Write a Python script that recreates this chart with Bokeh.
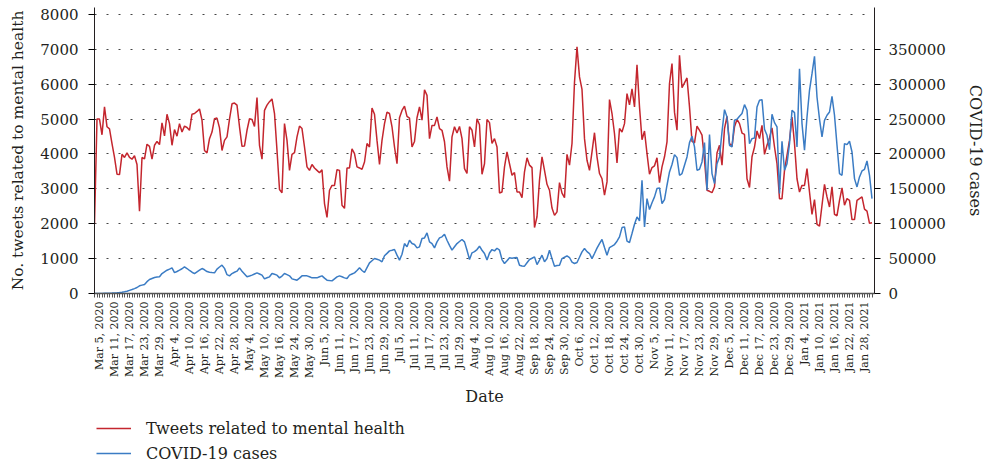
from bokeh.plotting import figure
from bokeh.models import (Range1d, LinearAxis, FixedTicker, Legend, LegendItem,
                          NumeralTickFormatter, Spacer)
from bokeh.layouts import column, row
from bokeh.embed import file_html
from bokeh.resources import INLINE

tick_labels = ["Mar 5, 2020", "Mar 11, 2020", "Mar 17, 2020", "Mar 23, 2020", "Mar 29, 2020",
               "Apr 4, 2020", "Apr 10, 2020", "Apr 16, 2020", "Apr 22, 2020", "Apr 28, 2020",
               "May 4, 2020", "May 10, 2020", "May 16, 2020", "May 24, 2020", "May 30, 2020",
               "Jun 5, 2020", "Jun 11, 2020", "Jun 17, 2020", "Jun 23, 2020", "Jun 29, 2020",
               "Jul 5, 2020", "Jul 11, 2020", "Jul 17, 2020", "Jul 23, 2020", "Jul 29, 2020",
               "Aug 4, 2020", "Aug 10, 2020", "Aug 16, 2020", "Aug 22, 2020",
               "Sep 18, 2020", "Sep 24, 2020", "Sep 30, 2020",
               "Oct 6, 2020", "Oct 12, 2020", "Oct 18, 2020", "Oct 24, 2020", "Oct 30, 2020",
               "Nov 5, 2020", "Nov 11, 2020", "Nov 17, 2020", "Nov 23, 2020", "Nov 29, 2020",
               "Dec 5, 2020", "Dec 11, 2020", "Dec 17, 2020", "Dec 23, 2020", "Dec 29, 2020",
               "Jan 4, 2021", "Jan 10, 2021", "Jan 16, 2021", "Jan 22, 2021", "Jan 28, 2021"]

tweets = [
    2000, 5000, 5000, 4550, 5350, 4780, 4720, 4300, 3900, 3420,
    3410, 3990, 3900, 4030, 3900, 3850, 3950, 3700, 2360, 3900,
    3860, 4280, 4220, 3850, 4250, 4360, 4270, 4890, 4520, 5140,
    4870, 4250, 4700, 4510, 4870, 4630, 4800, 4760, 4680, 5140,
    5160, 5220, 5290, 4970, 4100, 4030, 4440, 4630, 5010, 5030,
    4750, 4100, 4390, 4490, 5000, 5440, 5460, 5400, 4780, 4220,
    4230, 4680, 5010, 4990, 4790, 5620, 4250, 3850, 5250, 5400,
    5500, 5580, 5160, 4100, 2980, 2890, 4870, 4390, 3530, 3990,
    4040, 4490, 4800, 4730, 4200, 3630, 3530, 3700, 3600, 3530,
    3460, 3550, 2580, 2180, 2960, 3100, 3100, 3550, 3530, 2530,
    2440, 3600, 3600, 4150, 4010, 3630, 3600, 3560, 3770, 4300,
    4200, 5320, 5140, 4390, 3700, 4390, 4870, 5200, 5160, 4780,
    4200, 3720, 5040, 5250, 5370, 5080, 5030, 4200, 4360, 5040,
    5350, 4970, 5840, 5680, 4440, 4820, 4820, 5060, 4730, 4680,
    4350, 3630, 3220, 4490, 4780, 4600, 4790, 4440, 3580, 3440,
    4780, 4680, 4200, 5010, 4840, 3420, 3720, 4990, 4900, 4300,
    4440, 4200, 2880, 2910, 3630, 4060, 3720, 3390, 3470, 2910,
    2910, 2750, 3490, 3890, 3680, 3610, 1890, 2200, 3250, 3920,
    3530, 3130, 2960, 2450, 2240, 2340, 3180, 2880, 2750, 3990,
    3680, 4300, 6060, 7070, 6210, 5850, 4440, 3820, 3530, 4060,
    4610, 3920, 3440, 3290, 2820, 3200, 5560, 5160, 4580, 3740,
    4730, 4630, 4870, 5730, 5410, 5870, 5350, 6560, 5350, 4410,
    4660, 4010, 3420, 3610, 3660, 3890, 3180, 3630, 3920, 4350,
    6020, 6590, 5200, 4680, 6830, 5900, 6040, 6180, 5350, 4360,
    4320, 4800, 4680, 4540, 3820, 2960, 2930, 2890, 3060, 4030,
    4250, 3680, 4730, 5080, 4300, 4220, 4780, 4990, 4870, 4600,
    4560, 3290, 3040, 3920, 4200, 4660, 4440, 4820, 3990, 4250,
    4460, 4750, 4200, 3720, 2720, 2720, 3530, 3960, 4390, 5060,
    4300, 3290, 2910, 3100, 3100, 3580, 2910, 2270, 2690, 1980,
    1930, 2530, 3130, 2770, 2480, 3060, 2270, 2230, 2670, 3030,
    2530, 2720, 2670, 2120, 2120, 2670, 2720, 2770, 2420, 2360,
    2010, 2030]

cases = [
    50, 80, 100, 150, 250, 350, 500, 600, 800, 1000,
    1300, 1800, 2500, 3300, 4500, 5700, 7000, 8600, 11000, 12000,
    13000, 17000, 20000, 21500, 23000, 23500, 24000, 28600, 31000, 33400,
    35000, 36800, 30000, 31500, 33400, 35500, 38200, 35800, 33000, 30500,
    28600, 31000, 33400, 35800, 34000, 31500, 30500, 30000, 29600, 35000,
    38000, 40600, 36000, 27000, 25300, 28600, 30500, 32000, 36800, 32000,
    28000, 23900, 25000, 26300, 28000, 29600, 28000, 26300, 21000, 22500,
    23900, 28600, 27500, 26300, 22400, 25000, 28600, 27000, 25300, 21000,
    20000, 19100, 22000, 25300, 25300, 25300, 24000, 22400, 22400, 22400,
    24000, 25300, 22000, 19100, 18500, 18100, 21000, 23900, 25300, 24000,
    22400, 21500, 26300, 28000, 29600, 33000, 36800, 33000, 30100, 37000,
    43900, 47000, 50100, 49000, 47800, 45400, 54000, 57500, 61100, 62000,
    63000, 55000, 47800, 56300, 71600, 66900, 76400, 71600, 70200, 65400,
    66900, 78800, 79700, 86900, 74000, 71600, 65400, 74000, 79700, 81200,
    85000, 76400, 69000, 62100, 67000, 71600, 74500, 77400, 74000, 62100,
    48700, 58300, 60000, 63000, 67800, 62000, 57300, 48000, 58000, 63000,
    61100, 64900, 62100, 48700, 43000, 47000, 51100, 50500, 51100, 51600,
    40600, 39500, 39200, 44000, 48700, 50500, 52500, 41500, 48000, 54900,
    45400, 50100, 62100, 50000, 39200, 40000, 40600, 50100, 52000, 54000,
    51600, 45000, 43000, 44400, 52000, 59700, 64500, 60000, 57300, 50100,
    57300, 65000, 71600, 77400, 65900, 54900, 65900, 68000, 70200, 75000,
    81200, 94500, 95500, 75000, 73100, 86000, 99300, 109800, 104100, 162400,
    95500, 136100, 120300, 130000, 138500, 150400, 151400, 128900, 134700, 155200,
    174300, 185000, 199100, 194800, 169500, 171900, 183800, 195800, 216300, 225400,
    210100, 176700, 178100, 188600, 216300, 148000, 227800, 171900, 157600, 186200,
    195800, 231600, 263600, 253100, 212500, 210100, 248300, 249700, 254000, 258000,
    270700, 262600, 214900, 222000, 223000, 267400, 277000, 277900, 235400, 226800,
    206300, 256900, 245000, 238800, 143300, 218200, 176700, 186200, 214900, 262600,
    259300, 210100, 322300, 243500, 205300, 253100, 291300, 315200, 339900, 281700,
    250000, 224400, 248300, 255500, 260200, 282700, 255500, 212500, 171900, 169500,
    214900, 213400, 218200, 202900, 164700, 152800, 167100, 175700, 178100, 190000,
    169500, 136100]

left_ticks = [0, 1000, 2000, 3000, 4000, 5000, 6000, 7000, 8000]
right_ticks = [0, 50000, 100000, 150000, 200000, 250000, 300000, 350000]
series_names = ["Tweets related to mental health", "COVID-19 cases"]

FONT = "DejaVu Serif"
TXT = "#231f20"
RED = "#c4262e"
BLUE = "#3b7cc4"

days = list(range(len(tweets)))
label_pos = [2 + 6 * k for k in range(len(tick_labels))]

# a little head-room above 8000 so the top tick label is not clipped
p = figure(frame_width=780, frame_height=286, x_range=Range1d(0, 312), y_range=Range1d(0, 8200),
           output_backend="svg", toolbar_location=None, min_border=0)
p.outline_line_color = None
p.background_fill_color = "white"
p.xgrid.grid_line_color = None
p.ygrid.ticker = FixedTicker(ticks=left_ticks)
p.ygrid.grid_line_color = "#444444"
p.ygrid.grid_line_dash = "2 10"
p.ygrid.grid_line_width = 1.2

p.extra_y_ranges = {"cases": Range1d(0, 410000)}

r1 = p.line(days, tweets, line_color=RED, line_width=1.5)
r2 = p.line(days, cases, line_color=BLUE, line_width=1.5, y_range_name="cases")

# bottom axis
xa = p.xaxis[0]
xa.ticker = FixedTicker(ticks=label_pos, minor_ticks=days)
xa.major_label_overrides = {pos: lab for pos, lab in zip(label_pos, tick_labels)}
xa.major_label_orientation = 1.5707963
xa.major_label_text_font = FONT
xa.major_label_text_font_size = "11px"
xa.major_label_text_color = TXT
xa.major_label_standoff = 4
xa.major_tick_in = 0
xa.major_tick_out = 4
xa.minor_tick_in = 0
xa.minor_tick_out = 4
xa.major_tick_line_color = "#555555"
xa.minor_tick_line_color = "#555555"
xa.axis_line_color = "#555555"
xa.axis_line_width = 1.5
xa.axis_label = "Date"
xa.axis_label_text_font = FONT
xa.axis_label_text_font_size = "16px"
xa.axis_label_text_font_style = "normal"
xa.axis_label_text_color = TXT
xa.axis_label_standoff = 6

# left axis
ya = p.yaxis[0]
ya.ticker = FixedTicker(ticks=left_ticks)
ya.minor_tick_line_color = None
ya.major_tick_in = 0
ya.major_tick_out = 6
ya.major_label_standoff = 10
ya.major_label_text_font = FONT
ya.major_label_text_font_size = "15px"
ya.major_label_text_color = TXT
ya.axis_line_color = "#231f20"
ya.axis_label = "No. tweets related to mental health"
ya.axis_label_text_font = FONT
ya.axis_label_text_font_size = "15.5px"
ya.axis_label_text_font_style = "normal"
ya.axis_label_text_color = TXT
ya.axis_label_standoff = 10

# right axis
ra = LinearAxis(y_range_name="cases", ticker=FixedTicker(ticks=right_ticks),
                formatter=NumeralTickFormatter(format="0"))
ra.minor_tick_line_color = None
ra.major_tick_in = 0
ra.major_tick_out = 6
ra.major_label_standoff = 8
ra.major_label_text_font = FONT
ra.major_label_text_font_size = "15px"
ra.major_label_text_color = TXT
ra.axis_line_color = "#231f20"
ra.axis_label = "COVID-19 cases"
ra.axis_label_text_font = FONT
ra.axis_label_text_font_size = "16px"
ra.axis_label_text_font_style = "normal"
ra.axis_label_text_color = TXT
ra.axis_label_standoff = 17
p.add_layout(ra, "right")

# legend in its own small figure below the chart (series drawn out of view, only keys show)
leg = figure(width=420, height=45, x_range=Range1d(-30, -20), y_range=Range1d(-30, -20),
             x_axis_type=None, y_axis_type=None,
             output_backend="svg", toolbar_location=None, min_border=0)
leg.outline_line_color = None
leg.xgrid.grid_line_color = None
leg.ygrid.grid_line_color = None
k1 = leg.line(days, tweets, line_color=RED, line_width=1.5)
k2 = leg.line(days, cases, line_color=BLUE, line_width=1.5)
legend = Legend(items=[LegendItem(label=series_names[0], renderers=[k1]),
                       LegendItem(label=series_names[1], renderers=[k2])],
                location="top_left", orientation="vertical",
                border_line_color=None, background_fill_alpha=0,
                label_text_font=FONT, label_text_font_size="16px", label_text_color=TXT,
                glyph_width=35, glyph_height=20, label_height=20, label_standoff=15,
                spacing=5, padding=0, margin=0)
leg.add_layout(legend)

lay = column(Spacer(height=7), row(Spacer(width=6), p), Spacer(height=9),
             row(Spacer(width=96), leg))

open("out.html", "w").write(file_html(lay, INLINE))
